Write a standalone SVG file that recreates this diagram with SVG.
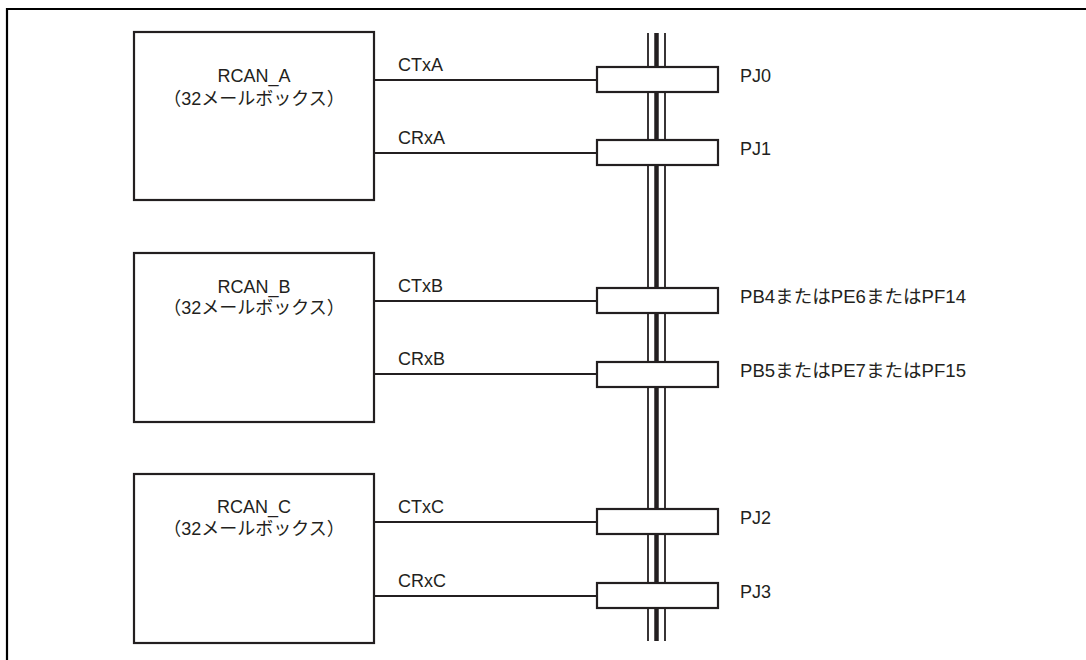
<svg xmlns="http://www.w3.org/2000/svg" width="1086" height="660" viewBox="0 0 1086 660">
<style>
text{font-family:"Liberation Sans","Noto Sans CJK JP",sans-serif;font-size:18px;fill:#231f20}
.c{text-anchor:middle}
.box{fill:#fff;stroke:#231f20;stroke-width:2.2}
.pin{fill:#fff;stroke:#231f20;stroke-width:2.2}
.w{stroke:#231f20;stroke-width:1.8;fill:none}
.bt{stroke:#231f20;stroke-width:1.8}
.bk{stroke:#231f20;stroke-width:4.5}
</style>
<g id="frame"><path d="M7 660V9H1086" fill="none" stroke="#000" stroke-width="2.2"/></g>
<g id="bus">
<line class="bt" x1="648" y1="33" x2="648" y2="641"/>
<line class="bk" x1="656.5" y1="33" x2="656.5" y2="641"/>
<line class="bt" x1="665" y1="33" x2="665" y2="641"/>
</g>
<g id="connectors">
<line class="w" x1="374" y1="80" x2="597" y2="80"/>
<line class="w" x1="374" y1="153" x2="597" y2="153"/>
<line class="w" x1="374" y1="301" x2="597" y2="301"/>
<line class="w" x1="374" y1="374" x2="597" y2="374"/>
<line class="w" x1="374" y1="522" x2="597" y2="522"/>
<line class="w" x1="374" y1="596" x2="597" y2="596"/>
<text x="398" y="71">CTxA</text>
<text x="398" y="144">CRxA</text>
<text x="398" y="292">CTxB</text>
<text x="398" y="365">CRxB</text>
<text x="398" y="513">CTxC</text>
<text x="398" y="587">CRxC</text>
</g>
<g id="rcan_a"><rect class="box" x="134" y="32" width="240" height="168"/>
<text class="c" x="254" y="82">RCAN_A</text><text class="c" x="254" y="105">（32メールボックス）</text></g>
<g id="rcan_b"><rect class="box" x="134" y="253" width="240" height="169"/>
<text class="c" x="254" y="293">RCAN_B</text><text class="c" x="254" y="314">（32メールボックス）</text></g>
<g id="rcan_c"><rect class="box" x="134" y="474" width="240" height="169"/>
<text class="c" x="254" y="513">RCAN_C</text><text class="c" x="254" y="535">（32メールボックス）</text></g>
<g id="pj0"><rect class="pin" x="597" y="67" width="121" height="25"/><text x="740" y="82">PJ0</text></g>
<g id="pj1"><rect class="pin" x="597" y="140" width="121" height="25"/><text x="740" y="155">PJ1</text></g>
<g id="pb4"><rect class="pin" x="597" y="288" width="121" height="25"/><text x="740" y="303" textLength="226" lengthAdjust="spacingAndGlyphs">PB4またはPE6またはPF14</text></g>
<g id="pb5"><rect class="pin" x="597" y="362" width="121" height="25"/><text x="740" y="377" textLength="226" lengthAdjust="spacingAndGlyphs">PB5またはPE7またはPF15</text></g>
<g id="pj2"><rect class="pin" x="597" y="509" width="121" height="25"/><text x="740" y="524">PJ2</text></g>
<g id="pj3"><rect class="pin" x="597" y="583" width="121" height="25"/><text x="740" y="598">PJ3</text></g>
</svg>
